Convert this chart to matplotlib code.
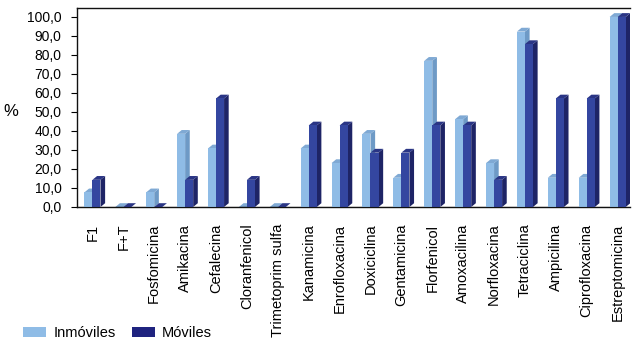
import matplotlib
matplotlib.use("Agg")
import matplotlib.pyplot as plt
from matplotlib.patches import Polygon, Patch
import numpy as np

categories = ["F1", "F+T", "Fosfomicina", "Amikacina", "Cefalecina", "Cloranfenicol",
              "Trimetoprim sulfa", "Kanamicina", "Enrofloxacina", "Doxiciclina",
              "Gentamicina", "Florfenicol", "Amoxacilina", "Norfloxacina",
              "Tetraciclina", "Ampicilina", "Ciprofloxacina", "Estreptomicina"]
inmoviles = [7.7, 0.0, 7.7, 38.5, 30.8, 0.0, 0.0, 30.8, 23.1, 38.5,
             15.4, 76.9, 46.2, 23.1, 92.3, 15.4, 15.4, 100.0]
moviles = [14.3, 0.0, 0.0, 14.3, 57.1, 14.3, 0.0, 42.9, 42.9, 28.6,
           28.6, 42.9, 42.9, 14.3, 85.7, 57.1, 57.1, 100.0]
yticks = [0, 10, 20, 30, 40, 50, 60, 70, 80, 90, 100]
series_names = ["Inmóviles", "Móviles"]

FONT = ["Liberation Sans Narrow", "Liberation Sans", "DejaVu Sans"]
plt.rcParams["font.family"] = FONT

fig = plt.figure(figsize=(6.36, 3.43), dpi=100)
ax = fig.add_axes([77/636, (343-207)/343, (630-77)/636, 199/343])

x = np.arange(len(categories))
w = 0.26
dx, dy = 0.15, 2.0

light = "#8FBCE6"; light_side = "#6E9AC6"; light_top = "#7FA9D4"
dark = "#3446A0"; dark_side = "#1E2466"; dark_top = "#2A3585"

def draw(xs, vals, face, side, top, z):
    ax.bar(xs, vals, width=w, align="edge", color=face, zorder=z, linewidth=0)
    for xi, v in zip(xs, vals):
        ax.add_patch(Polygon([(xi + w, 0), (xi + w + dx, dy), (xi + w + dx, v + dy), (xi + w, v)],
                             closed=True, facecolor=side, edgecolor="none", zorder=z - 0.5))
        ax.add_patch(Polygon([(xi, v), (xi + dx, v + dy), (xi + w + dx, v + dy), (xi + w, v)],
                             closed=True, facecolor=top, edgecolor="none", zorder=z - 0.5))

draw(x - w, inmoviles, light, light_side, light_top, 3)
draw(x, moviles, dark, dark_side, dark_top, 5)

ax.set_xlim(-0.5, 17.4)
ax.set_ylim(0, 104.7)
ax.set_yticks(yticks)
ax.set_yticklabels([f"{v:.1f}".replace(".", ",") for v in yticks], fontsize=10)
ax.set_xticks(x)
ax.set_xticklabels(categories, rotation=90, fontsize=10.5)
ax.tick_params(axis="x", length=0, pad=12)
ax.tick_params(axis="y", length=4, pad=7, width=0.8)
for s in ["top", "left", "bottom"]:
    ax.spines[s].set_linewidth(1.0)
    ax.spines[s].set_color("#111111")
ax.spines["right"].set_visible(False)
ax.axhline(0, color="#111111", lw=0.8, zorder=6)

fig.text(3/636, 1 - 112/343, "%", fontsize=12, va="center", ha="left")

handles = [Patch(facecolor=light, edgecolor="none"), Patch(facecolor="#1F237F", edgecolor="none")]
fig.legend(handles, series_names, loc="lower left", bbox_to_anchor=(0.015, -0.03), ncol=2,
           frameon=False, fontsize=10.5, handlelength=1.6, handleheight=0.6,
           columnspacing=1.1, handletextpad=0.5)

fig.savefig("out.png", dpi=100)
